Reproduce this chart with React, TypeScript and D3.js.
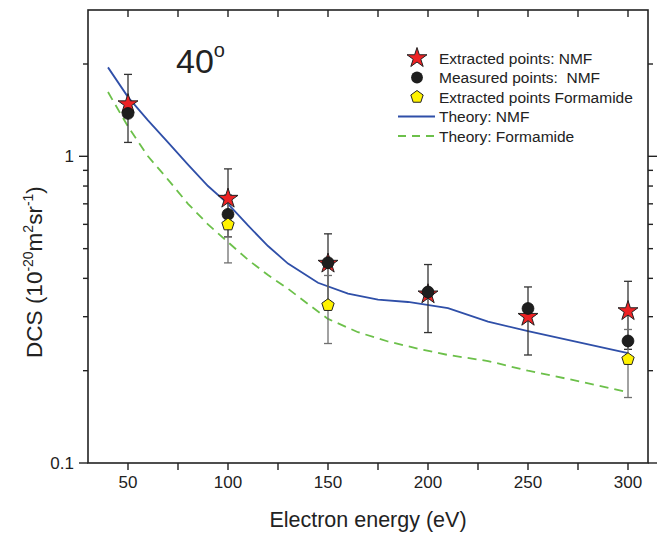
import React from "react";
import * as d3 from "d3";

// measured / extracted cross sections at 40 degrees
const energies = [50, 100, 150, 200, 250, 300];
const extractedNMF = [1.48, 0.728, 0.447, 0.355, 0.3, 0.313];
const measuredNMF = [1.38, 0.647, 0.45, 0.361, 0.319, 0.25];
const formEnergies = [100, 150, 300];
const extractedForm = [0.599, 0.327, 0.218];
const errFrac = 0.25;

// theory curves
const theoryNMFx = [40, 50, 60, 70, 80, 90, 100, 110, 120, 130, 145, 160, 175, 190, 210, 230, 250, 275, 300];
const theoryNMFy = [1.95, 1.56, 1.31, 1.11, 0.94, 0.8, 0.7, 0.595, 0.51, 0.447, 0.387, 0.357, 0.341, 0.335, 0.32, 0.289, 0.269, 0.248, 0.228];
const theoryFormx = [40, 50, 60, 70, 80, 90, 100, 110, 120, 130, 140, 150, 165, 180, 195, 210, 230, 250, 275, 300];
const theoryFormy = [1.62, 1.25, 1.0, 0.84, 0.7, 0.6, 0.525, 0.46, 0.41, 0.37, 0.33, 0.295, 0.267, 0.249, 0.236, 0.225, 0.215, 0.2, 0.185, 0.17];

const xMajor = [50, 100, 150, 200, 250, 300];
const xMinor = [75, 125, 175, 225, 275];
const yMajor = [0.1, 1];
const yMinor = [0.2, 0.3, 0.4, 0.5, 0.6, 0.7, 0.8, 0.9, 2];

const legendLabels = [
  "Extracted points: NMF",
  "Measured points:  NMF",
  "Extracted points Formamide",
  "Theory: NMF",
  "Theory: Formamide",
];

const W = 659, H = 534;
const m = { left: 88, right: 648, top: 10, bottom: 463 };
const font = "'Liberation Sans', Arial, Helvetica, sans-serif";
const BLUE = "#2f4fa8";
const GREEN = "#6cc04a";
const RED = "#ee2224";
const YELLOW = "#fff200";

const symbolPentagon = {
  draw(ctx: any, size: number) {
    const r = Math.sqrt(size / 2.378);
    for (let i = 0; i < 5; i++) {
      const a = -Math.PI / 2 + (i * 2 * Math.PI) / 5;
      const px = r * Math.cos(a), py = r * Math.sin(a);
      if (i) ctx.lineTo(px, py); else ctx.moveTo(px, py);
    }
    ctx.closePath();
  },
};

const starPath = d3.symbol(d3.symbolStar, 124)() as string;
const circlePath = d3.symbol(d3.symbolCircle, 110)() as string;
const pentPath = d3.symbol(symbolPentagon as any, 100)() as string;

export default function App() {
  const x = d3.scaleLinear().domain([30, 310]).range([m.left, m.right]);
  const y = d3.scaleLog().domain([0.1, 3]).range([m.bottom, m.top]);

  const line = d3.line<[number, number]>().x(d => x(d[0])).y(d => y(d[1]));
  const nmfTheory = line(theoryNMFx.map((e, i) => [e, theoryNMFy[i]]));
  const formTheory = line(theoryFormx.map((e, i) => [e, theoryFormy[i]]));

  const axisColor = "#222";
  const legX = 417;
  const legY0 = 58;
  const legDy = 19.5;

  const errBar = (e: number, v: number, color: string, key: string) => {
    const x0 = x(e);
    const yTop = y(v * (1 + errFrac));
    const yBot = y(v * (1 - errFrac));
    return (
      <g key={key} stroke={color} strokeWidth={1.3}>
        <line x1={x0} x2={x0} y1={yTop} y2={yBot} />
        <line x1={x0 - 4} x2={x0 + 4} y1={yTop} y2={yTop} />
        <line x1={x0 - 4} x2={x0 + 4} y1={yBot} y2={yBot} />
      </g>
    );
  };

  return (
    <svg width={W} height={H} style={{ position: "absolute", left: 0, top: 0, background: "#fff" }} fontFamily={font}>
      {/* theory curves */}
      <path d={formTheory || ""} fill="none" stroke={GREEN} strokeWidth={1.8} strokeDasharray="9,6" />
      <path d={nmfTheory || ""} fill="none" stroke={BLUE} strokeWidth={1.8} />

      {/* error bars */}
      {energies.map((e, i) => errBar(e, extractedNMF[i], "#333", "en" + i))}
      {formEnergies.map((e, i) => errBar(e, extractedForm[i], "#707070", "ef" + i))}

      {/* points */}
      {energies.map((e, i) => (
        <path key={"s" + i} d={starPath} transform={`translate(${x(e)},${y(extractedNMF[i])})`} fill={RED} stroke="#222" strokeWidth={1} />
      ))}
      {energies.map((e, i) => (
        <path key={"c" + i} d={circlePath} transform={`translate(${x(e)},${y(measuredNMF[i])})`} fill="#1e1e1e" stroke="#111" strokeWidth={0.8} />
      ))}
      {formEnergies.map((e, i) => (
        <path key={"p" + i} d={pentPath} transform={`translate(${x(e)},${y(extractedForm[i])})`} fill={YELLOW} stroke="#222" strokeWidth={1} />
      ))}

      {/* frame */}
      <rect x={m.left} y={m.top} width={m.right - m.left} height={m.bottom - m.top} fill="none" stroke={axisColor} strokeWidth={1.6} />

      {/* x ticks bottom (out) and top (in) */}
      {[...xMajor, ...xMinor].map(t => (
        <g key={"xt" + t} stroke={axisColor} strokeWidth={1.4}>
          <line x1={x(t)} x2={x(t)} y1={m.bottom} y2={m.bottom + 7} />
          <line x1={x(t)} x2={x(t)} y1={m.top} y2={m.top + 7} />
        </g>
      ))}
      {xMajor.map(t => (
        <text key={"xl" + t} x={x(t)} y={m.bottom + 25} textAnchor="middle" fontSize={17} fill="#222">{t}</text>
      ))}

      {/* y ticks left and right (out) */}
      {yMajor.map(t => (
        <g key={"ym" + t} stroke={axisColor} strokeWidth={1.4}>
          <line x1={m.left - 9} x2={m.left} y1={y(t)} y2={y(t)} />
          <line x1={m.right} x2={m.right + 9} y1={y(t)} y2={y(t)} />
        </g>
      ))}
      {yMinor.map(t => (
        <g key={"yn" + t} stroke={axisColor} strokeWidth={1.4}>
          <line x1={m.left - 5} x2={m.left} y1={y(t)} y2={y(t)} />
          <line x1={m.right} x2={m.right + 5} y1={y(t)} y2={y(t)} />
        </g>
      ))}
      {yMajor.map(t => (
        <text key={"yl" + t} x={m.left - 14} y={y(t) + 6} textAnchor="end" fontSize={17} fill="#222">{t}</text>
      ))}

      {/* axis titles */}
      <text x={(m.left + m.right) / 2} y={527} textAnchor="middle" fontSize={21.5} fill="#222">Electron energy (eV)</text>
      <text transform="translate(42,272) rotate(-90)" textAnchor="middle" fontSize={22.5} fill="#222">
        DCS (10<tspan dy={-9} fontSize={14}>-20</tspan><tspan dy={9}>m</tspan><tspan dy={-9} fontSize={14}>2</tspan><tspan dy={9}>sr</tspan><tspan dy={-9} fontSize={14}>-1</tspan><tspan dy={9}>)</tspan>
      </text>

      {/* angle label */}
      <text x={176} y={73} fontSize={34} fill="#222">40<tspan dy={-16} fontSize={20}>o</tspan></text>

      {/* legend */}
      <path d={starPath} transform={`translate(${legX},${legY0})`} fill={RED} stroke="#222" strokeWidth={1} />
      <path d={circlePath} transform={`translate(${legX},${legY0 + legDy})`} fill="#1e1e1e" />
      <path d={pentPath} transform={`translate(${legX},${legY0 + 2 * legDy})`} fill={YELLOW} stroke="#222" strokeWidth={1} />
      <line x1={398} x2={435} y1={legY0 + 3 * legDy} y2={legY0 + 3 * legDy} stroke={BLUE} strokeWidth={1.8} />
      <line x1={398} x2={435} y1={legY0 + 4 * legDy} y2={legY0 + 4 * legDy} stroke={GREEN} strokeWidth={1.8} strokeDasharray="8,6" />
      {legendLabels.map((l, i) => (
        <text key={"lg" + i} x={439} y={legY0 + i * legDy + 5.5} fontSize={15.5} fill="#222" style={{ whiteSpace: "pre" }}>{l}</text>
      ))}
    </svg>
  );
}
